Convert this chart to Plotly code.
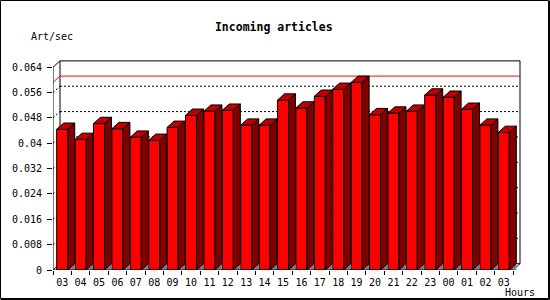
import plotly.graph_objects as go

# ---- data ----
hours = ["03", "04", "05", "06", "07", "08", "09", "10", "11", "12", "13", "14", "15",
         "16", "17", "18", "19", "20", "21", "22", "23", "00", "01", "02", "03"]
values = [0.0444, 0.0412, 0.0462, 0.0446, 0.0419, 0.0409, 0.0450, 0.0488, 0.0501, 0.0504,
          0.0457, 0.0457, 0.0536, 0.0511, 0.0548, 0.0570, 0.0592, 0.0490, 0.0495, 0.0501,
          0.0552, 0.0545, 0.0507, 0.0457, 0.0434]
y_ticks = [0, 0.008, 0.016, 0.024, 0.032, 0.040, 0.048, 0.056, 0.064]
y_ticktext = ["0", "0.008", "0.016", "0.024", "0.032", "0.04", "0.048", "0.056", "0.064"]
title = "Incoming articles"
y_title = "Art/sec"
x_title = "Hours"

# ---- geometry / style ----
W, H = 550, 300
L, R, T, B = 53, 27, 60, 30
PW, PH = W - L - R, H - T - B
PX_PER_CAT = 18.4
PX_PER_UNIT = 3169.0
BAR_W = 0.6
DX = 7.0 / PX_PER_CAT          # depth in category units
DY = 6.3 / PX_PER_UNIT         # depth in value units
FRONT = "#ff0000"
SIDE = "#800000"
TOP = "#c00000"
FLOOR = "#808080"
FONT = "DejaVu Sans Mono"

n = len(values)
xs = list(range(n))
x_lo, x_hi = -0.5, n - 0.5
y_top = y_ticks[-1]

fig = go.Figure()

# front faces
fig.add_trace(go.Bar(x=xs, y=values, width=BAR_W,
                     marker=dict(color=FRONT, line=dict(color="black", width=1)),
                     hoverinfo="skip", showlegend=False))

# side faces, top faces, floor triangles
sx, sy, tx, ty, fx, fy = [], [], [], [], [], []
for i, v in zip(xs, values):
    xl = i - BAR_W / 2
    xr = i + BAR_W / 2
    sx += [xr, xr + DX, xr + DX, xr, xr, None]
    sy += [0, DY, v + DY, v, 0, None]
    tx += [xl, xl + DX, xr + DX, xr, xl, None]
    ty += [v, v + DY, v + DY, v, v, None]
    fx += [xr, xr + DX, xr + DX, xr, None]
    fy += [0, DY, 0, 0, None]

fig.add_trace(go.Scatter(x=fx, y=fy, mode="lines", fill="toself", fillcolor=FLOOR,
                         line=dict(width=0, color=FLOOR), hoverinfo="skip", showlegend=False))
fig.add_trace(go.Scatter(x=sx, y=sy, mode="lines", fill="toself", fillcolor=SIDE,
                         line=dict(width=1, color="black"), hoverinfo="skip", showlegend=False))
fig.add_trace(go.Scatter(x=tx, y=ty, mode="lines", fill="toself", fillcolor=TOP,
                         line=dict(width=1, color="black"), hoverinfo="skip", showlegend=False))

shapes = []


def seg(x0, y0, x1, y1, color="black", dash="solid", layer="below", width=1):
    shapes.append(dict(type="line", xref="x", yref="y", x0=x0, y0=y0, x1=x1, y1=y1,
                       line=dict(color=color, width=width, dash=dash), layer=layer))


# back-wall grid lines and left-wall diagonals
for v in y_ticks[1:-1]:
    seg(x_lo + DX, v + DY, x_hi + DX, v + DY, dash="2px,2px")
    seg(x_lo, v, x_lo + DX, v + DY, dash="2px,2px")
# back wall frame
seg(x_lo + DX, y_top + DY, x_hi + DX, y_top + DY)
seg(x_lo + DX, DY, x_lo + DX, y_top + DY)
seg(x_hi + DX, DY, x_hi + DX, y_top + DY)
seg(x_lo + DX, DY, x_hi + DX, DY)
seg(x_lo, y_top, x_lo + DX, y_top + DY)
seg(x_lo, 0, x_lo + DX, DY)
seg(x_hi, 0, x_hi + DX, DY)
# max line
vmax = max(values)
seg(x_lo + DX, vmax + DY, x_hi + DX, vmax + DY, color="#ff0000")
seg(x_lo, vmax, x_lo + DX, vmax + DY, color="#ff0000")
# front axes
seg(x_lo, 0, x_lo, y_top, layer="above")
seg(x_lo, 0, x_hi, 0, layer="above")


# outer border (paper coords from pixels)
def px_x(p):
    return (p - L) / PW


def px_y(p):
    return (H - B - p) / PH


shapes.append(dict(type="rect", xref="paper", yref="paper",
                   x0=px_x(0.5), x1=px_x(548.5), y0=px_y(298.5), y1=px_y(0.5),
                   line=dict(color="black", width=1), layer="above"))
shapes.append(dict(type="line", xref="paper", yref="paper",
                   x0=px_x(549.5), x1=px_x(549.5), y0=px_y(299.5), y1=px_y(0.5),
                   line=dict(color="black", width=1), layer="above"))
shapes.append(dict(type="line", xref="paper", yref="paper",
                   x0=px_x(0.5), x1=px_x(549.5), y0=px_y(299.5), y1=px_y(299.5),
                   line=dict(color="black", width=1), layer="above"))

annotations = [
    dict(text=y_title, xref="paper", yref="paper", x=px_x(29), y=px_y(37),
         xanchor="left", yanchor="middle", showarrow=False,
         font=dict(family=FONT, size=10, color="black")),
    dict(text=x_title, xref="paper", yref="paper", x=px_x(503), y=px_y(292.5),
         xanchor="left", yanchor="middle", showarrow=False,
         font=dict(family=FONT, size=10, color="black")),
]

fig.update_layout(
    width=W, height=H,
    margin=dict(l=L, r=R, t=T, b=B, pad=0),
    paper_bgcolor="white", plot_bgcolor="white",
    title=dict(text="<b>" + title + "</b>", x=273.8 / W, xref="container", xanchor="center",
               y=1 - 27 / H, yref="container", yanchor="middle",
               font=dict(family=FONT, size=11.5, color="black")),
    shapes=shapes, annotations=annotations, showlegend=False,
    xaxis=dict(range=[x_lo, x_lo + PW / PX_PER_CAT], tickmode="array", tickvals=xs,
               ticktext=hours, ticks="", showgrid=False, zeroline=False, showline=False,
               ticklabelstandoff=5,
               tickfont=dict(family=FONT, size=10, color="black"),
               minor=dict(tickmode="array", tickvals=[x_lo + k for k in range(n + 1)],
                          ticks="outside", ticklen=4, tickcolor="black", tickwidth=1,
                          showgrid=False),
               fixedrange=True),
    yaxis=dict(range=[0, PH / PX_PER_UNIT], tickmode="array", tickvals=y_ticks,
               ticktext=y_ticktext, ticks="outside", ticklen=5, tickcolor="black",
               tickwidth=1, showgrid=False, zeroline=False, showline=False,
               ticklabelstandoff=3,
               tickfont=dict(family=FONT, size=10, color="black"), fixedrange=True),
)

fig.write_html("out.html")
